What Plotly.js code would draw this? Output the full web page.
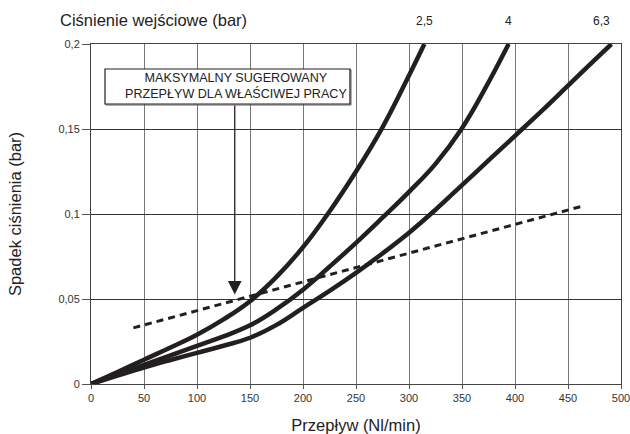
<!DOCTYPE html>
<html>
<head>
<meta charset="utf-8">
<script src="https://cdn.plot.ly/plotly-3.0.1.min.js"></script>
<style>html,body{margin:0;padding:0;background:#fff;}#chart{width:630px;height:434px;}</style>
</head>
<body>
<div id="chart"></div>
<script>
// ---- data ----
const seriesNames = ['2,5', '4', '6,3'];
const flow_25 = [0, 25, 50, 75, 100, 125, 150, 175, 200, 225, 250, 275, 300, 314.5];
const drop_25 = [0, 0.0071, 0.0143, 0.0215, 0.029, 0.038, 0.0487, 0.063, 0.0805, 0.1015, 0.125, 0.151, 0.1815, 0.2];
const flow_4 = [0, 25, 50, 75, 100, 125, 150, 175, 200, 225, 250, 275, 300, 325, 350, 372, 394];
const drop_4 = [0, 0.0057, 0.0113, 0.0168, 0.0224, 0.028, 0.0345, 0.044, 0.0555, 0.069, 0.083, 0.0978, 0.113, 0.1295, 0.1505, 0.174, 0.2];
const flow_63 = [0, 25, 50, 75, 100, 125, 150, 175, 200, 225, 250, 275, 300, 325, 350, 375, 400, 425, 450, 475, 491];
const drop_63 = [0, 0.0049, 0.0097, 0.0141, 0.0183, 0.0225, 0.0272, 0.0348, 0.0448, 0.0548, 0.0654, 0.0768, 0.089, 0.1025, 0.117, 0.1315, 0.146, 0.1605, 0.1755, 0.1905, 0.2];
const limitFlow = [40, 464];
const limitDrop = [0.033, 0.1047];
const arrowFlow = 135.6;
const arrowTipDrop = 0.0526;
const boxText = 'MAKSYMALNY SUGEROWANY<br>PRZEPŁYW DLA WŁAŚCIWEJ PRACY';
const xTicks = [0, 50, 100, 150, 200, 250, 300, 350, 400, 450, 500];
const yTicks = [0, 0.05, 0.1, 0.15, 0.2];
const yTickText = ['0', '0,05', '0,1', '0,15', '0,2'];

const FONT = '"Liberation Sans", Arial, sans-serif';
const INK = '#231f20';

const curves = [[flow_25, drop_25], [flow_4, drop_4], [flow_63, drop_63]];
const traces = curves.map((c, i) => ({
  x: c[0], y: c[1], name: seriesNames[i], type: 'scatter', mode: 'lines',
  line: {color: INK, width: 4.5, shape: 'spline', smoothing: 1.2},
  hoverinfo: 'x+y'
}));
traces.push({
  x: limitFlow, y: limitDrop, type: 'scatter', mode: 'lines',
  line: {color: INK, width: 3, dash: '7px,5px'}, hoverinfo: 'skip'
});

const annotations = curves.map((c, i) => ({
  text: seriesNames[i], x: c[0][c[0].length - 1], xref: 'x',
  y: 1, yref: 'paper', yanchor: 'middle', yshift: 23,
  xshift: i === 2 ? -10 : 0,
  showarrow: false, font: {family: FONT, size: 12, color: '#222'}
}));
annotations.push({
  text: boxText, x: arrowFlow + 1, xref: 'x', y: 0.1752, yref: 'y',
  showarrow: false, align: 'center',
  font: {family: FONT, size: 12.6, color: '#222'}
});
annotations.push({
  text: '', x: arrowFlow, y: arrowTipDrop, xref: 'x', yref: 'y',
  ax: arrowFlow, ay: 0.1647, axref: 'x', ayref: 'y',
  showarrow: true, arrowhead: 2, arrowsize: 2.1, arrowwidth: 1.3, arrowcolor: INK
});

const layout = {
  width: 630, height: 434,
  margin: {l: 91, r: 9, t: 44, b: 50},
  paper_bgcolor: '#fff', plot_bgcolor: '#fff',
  showlegend: false,
  separators: ', ',
  font: {family: FONT, color: '#222'},
  title: {
    text: 'Ciśnienie wejściowe (bar)',
    xref: 'container', x: 60 / 630, xanchor: 'left',
    yref: 'container', y: 1 - 20 / 434, yanchor: 'middle',
    font: {family: FONT, size: 16.5, color: '#222'}
  },
  xaxis: {
    range: [0, 500], tickmode: 'array', tickvals: xTicks,
    showgrid: true, gridcolor: '#777', gridwidth: 1,
    zeroline: false, showline: true, linecolor: '#444', linewidth: 1, mirror: true,
    ticks: 'outside', ticklen: 4, tickcolor: '#555', tickwidth: 1,
    ticklabeloverflow: 'allow',
    tickfont: {family: FONT, size: 11, color: '#333'},
    title: {text: 'Przepływ (Nl/min)', standoff: 16, font: {family: FONT, size: 16.5, color: '#222'}}
  },
  yaxis: {
    range: [0, 0.2], tickmode: 'array', tickvals: yTicks, ticktext: yTickText,
    showgrid: true, gridcolor: '#333', gridwidth: 1,
    zeroline: false, showline: true, linecolor: '#444', linewidth: 1, mirror: true,
    ticks: 'outside', ticklen: 8, tickcolor: '#555', tickwidth: 1,
    tickfont: {family: FONT, size: 11, color: '#333'},
    title: {text: 'Spadek ciśnienia (bar)', standoff: 32, font: {family: FONT, size: 16.5, color: '#222'}}
  },
  shapes: [
    {type: 'rect', xref: 'x', yref: 'y', x0: 14.2, x1: 245.3, y0: 0.1641, y1: 0.1847,
     line: {color: '#666', width: 1}, fillcolor: 'rgba(0,0,0,0)', layer: 'above'},
    {type: 'rect', xref: 'x', yref: 'y', x0: 13.2, x1: 244.3, y0: 0.1647, y1: 0.1853,
     line: {color: INK, width: 1.2}, fillcolor: '#fff', layer: 'above'}
  ],
  annotations: annotations
};

Plotly.newPlot('chart', traces, layout, {staticPlot: true, displayModeBar: false});
</script>
</body>
</html>
